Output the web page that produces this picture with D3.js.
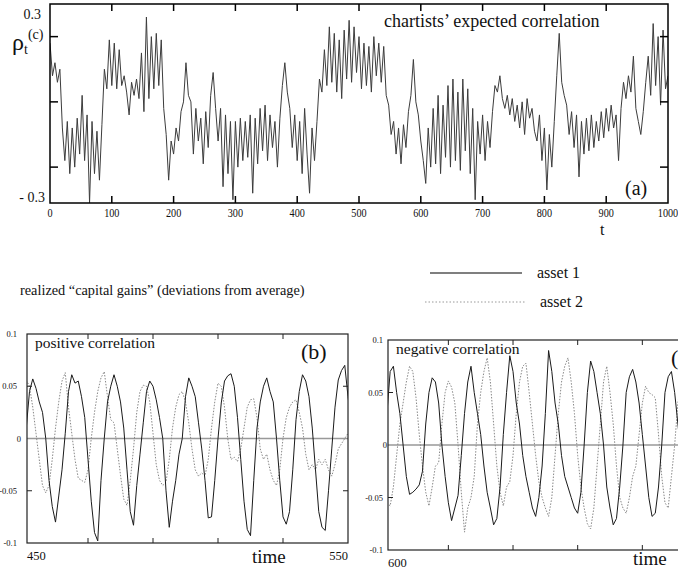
<!DOCTYPE html>
<html><head><meta charset="utf-8">
<script src="https://cdn.jsdelivr.net/npm/d3@7"></script>
<style>
body{margin:0;background:#fff}
svg{display:block}
text{font-family:"Liberation Serif","Times New Roman",serif;fill:#111}
</style>
</head><body>
<svg id="chart" width="678" height="573"></svg>
<script>
// ---------- DATA ----------
// panel (a): chartists' expected correlation, sampled every 4 steps from t=0 to t=1000
const rhoStep = 4;
const rhoValues = [
 0.18,0.08,0.12,0.06,0.10,-0.08,-0.18,-0.06,-0.22,-0.08,
 -0.20,-0.05,-0.16,0.02,-0.18,-0.04,-0.31,-0.06,-0.22,-0.09,
 -0.24,-0.07,0.10,0.04,0.19,0.05,0.18,0.04,0.16,0.05,
 0.08,0.03,-0.04,0.06,0.02,0.07,0.01,0.15,-0.03,0.26,
 0.01,0.20,0.04,0.21,0.05,0.19,-0.02,-0.10,-0.24,-0.12,
 -0.16,-0.08,-0.12,-0.03,0.00,0.12,0.02,0.00,-0.16,-0.02,
 -0.12,-0.05,-0.19,-0.03,-0.14,0.02,0.09,-0.02,-0.12,-0.02,
 -0.26,-0.04,-0.22,-0.06,-0.30,-0.06,-0.20,-0.05,-0.18,-0.06,
 -0.17,-0.04,-0.28,-0.05,-0.19,-0.02,-0.15,-0.01,-0.18,-0.04,
 -0.14,-0.06,-0.20,-0.05,0.05,0.12,0.03,-0.02,-0.14,-0.04,
 -0.18,-0.06,-0.22,-0.02,-0.16,-0.28,-0.08,-0.18,-0.06,0.07,
 0.03,0.16,0.05,0.23,0.06,0.21,0.03,0.19,0.01,0.22,
 0.07,0.25,0.06,0.23,0.09,0.20,0.04,0.18,0.05,0.17,
 0.03,0.20,0.08,0.18,0.06,0.17,0.02,-0.01,-0.10,-0.06,
 -0.16,-0.08,-0.19,-0.07,-0.14,-0.03,0.02,0.13,0.00,-0.04,
 -0.12,-0.18,-0.25,-0.08,-0.20,-0.02,-0.19,0.02,-0.22,-0.01,
 -0.17,0.05,-0.20,0.07,-0.18,0.03,-0.21,0.07,-0.15,0.04,
 -0.22,-0.02,-0.30,-0.06,-0.16,-0.04,-0.18,-0.06,-0.14,-0.03,
 0.05,0.03,0.08,0.01,-0.02,0.02,-0.04,0.01,-0.06,-0.01,
 -0.08,0.00,-0.10,0.01,-0.05,-0.02,-0.09,-0.12,-0.04,-0.18,
 -0.08,-0.27,-0.10,-0.20,-0.06,0.08,0.21,0.06,0.02,-0.01,
 -0.10,-0.03,-0.14,-0.04,-0.23,-0.06,-0.16,-0.05,-0.15,-0.04,
 -0.14,-0.06,-0.12,-0.03,-0.11,-0.02,-0.09,-0.01,-0.08,-0.04,
 -0.18,-0.02,0.06,0.01,0.08,0.03,0.14,-0.02,-0.06,-0.10,
 -0.03,0.06,0.14,0.02,0.24,0.05,0.20,-0.01,0.22,0.04,
 0.08
];
const aTicksX = [0,100,200,300,400,500,600,700,800,900,1000];
const aTicksY = [0.2,0,-0.2];

// panel (b): positive correlation, one value per period
const bTimeStart = 451;
const bAsset1 = [
 0.01,0.045,0.057,0.048,0.035,0.025,0.0,-0.04,-0.065,-0.08,
 -0.055,-0.03,0.005,0.045,0.061,0.053,0.055,0.04,0.02,-0.02,
 -0.06,-0.09,-0.098,-0.04,0.0,0.035,0.05,0.061,0.05,0.035,
 0.01,-0.03,-0.07,-0.083,-0.045,-0.015,0.015,0.045,0.055,0.05,
 0.037,0.02,0.0,-0.05,-0.085,-0.06,-0.04,-0.015,0.0,0.04,
 0.058,0.05,0.04,0.015,-0.01,-0.04,-0.076,-0.075,-0.04,0.0,
 0.034,0.055,0.06,0.062,0.05,0.02,-0.02,-0.06,-0.087,-0.093,
 -0.04,0.01,0.035,0.05,0.058,0.045,0.035,0.0,-0.04,-0.075,
 -0.082,-0.07,-0.03,0.018,0.045,0.061,0.055,0.04,0.01,-0.03,
 -0.07,-0.085,-0.088,-0.05,-0.01,0.03,0.056,0.065,0.07,0.04,
 0.015
];
const bAsset2 = [
 0.056,0.05,0.03,0.005,-0.02,-0.045,-0.052,-0.045,-0.02,0.01,
 0.035,0.055,0.063,0.03,0.005,-0.02,-0.038,-0.04,-0.042,-0.03,
 0.0,0.025,0.045,0.058,0.064,0.04,0.018,0.015,-0.01,-0.035,
 -0.058,-0.064,-0.04,-0.01,0.025,0.045,0.051,0.05,0.035,0.005,
 -0.025,-0.04,-0.045,-0.042,-0.02,0.01,0.03,0.042,0.045,0.035,
 0.015,-0.01,-0.03,-0.036,-0.033,-0.036,-0.02,0.01,0.035,0.053,
 0.05,0.03,0.0,-0.02,-0.018,-0.022,-0.01,0.01,0.03,0.037,
 0.038,0.02,-0.01,-0.02,-0.015,-0.03,-0.04,-0.045,-0.03,0.0,
 0.02,0.03,0.035,0.037,0.025,0.01,-0.015,-0.03,-0.025,-0.03,
 -0.02,-0.025,-0.02,-0.03,-0.036,-0.025,-0.01,-0.005,0.0,0.005,
 0.01
];
const bTicksX = [470,490,510,530];

// panel (c): negative correlation
const cTimeStart = 601;
const cAsset1 = [
 0.03,0.07,0.075,0.05,0.03,0.0,-0.03,-0.047,-0.045,-0.042,
 -0.038,-0.025,0.02,0.05,0.064,0.06,0.04,0.0,-0.03,-0.055,
 -0.072,-0.06,-0.048,-0.01,0.03,0.06,0.075,0.05,0.03,0.01,
 -0.02,-0.045,-0.06,-0.076,-0.07,-0.04,0.01,0.05,0.085,0.07,
 0.04,0.02,-0.01,-0.03,-0.045,-0.06,-0.068,-0.05,-0.02,0.03,
 0.09,0.07,0.04,0.02,-0.01,-0.03,-0.04,-0.05,-0.06,-0.065,
 -0.045,0.0,0.05,0.08,0.07,0.05,0.03,0.0,-0.04,-0.06,
 -0.076,-0.07,-0.04,0.0,0.05,0.065,0.072,0.06,0.04,0.01,
 -0.02,-0.05,-0.068,-0.065,-0.04,0.0,0.05,0.065,0.07,0.05,
 0.02,-0.01,-0.04,-0.06,-0.07,-0.05,-0.01,0.03,0.06,0.07,
 0.05
];
const cAsset2 = [
 -0.055,-0.058,-0.04,-0.01,0.02,0.04,0.06,0.075,0.07,0.045,
 0.01,-0.02,-0.045,-0.058,-0.04,-0.02,-0.017,0.02,0.05,0.061,
 0.055,0.04,0.0,-0.045,-0.083,-0.06,-0.05,-0.03,0.02,0.05,
 0.07,0.083,0.06,0.02,-0.02,-0.045,-0.058,-0.04,-0.035,-0.01,
 0.03,0.06,0.075,0.078,0.05,0.02,-0.01,-0.035,-0.05,-0.06,
 -0.068,-0.05,-0.01,0.03,0.06,0.075,0.083,0.06,0.03,-0.01,
 -0.04,-0.06,-0.075,-0.08,-0.06,-0.02,0.02,0.06,0.075,0.05,
 0.02,-0.02,-0.05,-0.06,-0.065,-0.05,-0.03,-0.02,0.01,0.04,
 0.056,0.05,0.048,0.045,0.01,-0.03,-0.055,-0.06,-0.03,0.0,
 0.04,0.06,0.055,0.03,0.0,-0.03,-0.05,-0.06,-0.04,-0.01,
 0.02
];
const cTicksX = [620,640,660,680];
const bcTicksY = [0.1,0.05,0,-0.05,-0.1];
const legendLabels = ["asset 1","asset 2"];

// ---------- DRAW ----------
const svg = d3.select("#chart");
const defs = svg.append("defs");

// ===== Panel (a) =====
{
  const L=50,R=668,T=4,B=203;
  const x = d3.scaleLinear().domain([0,1000]).range([L,R]);
  const y = d3.scaleLinear().domain([-0.31,0.3]).range([B,T]);
  const g = svg.append("g");
  defs.append("clipPath").attr("id","clipA").append("rect").attr("x",L).attr("y",T).attr("width",R-L).attr("height",B-T);
  const line = d3.line().x((d,i)=>x(i*rhoStep)).y(d=>y(d));
  g.append("path").datum(rhoValues).attr("d",line).attr("clip-path","url(#clipA)")
    .attr("fill","none").attr("stroke","#3c3c3c").attr("stroke-width",1);
  g.append("rect").attr("x",L).attr("y",T).attr("width",R-L).attr("height",B-T)
    .attr("fill","none").attr("stroke","#000").attr("stroke-width",1.5);
  aTicksX.forEach(t=>{
    if(t>0 && t<1000){
      g.append("line").attr("x1",x(t)).attr("x2",x(t)).attr("y1",T).attr("y2",T+7).attr("stroke","#000").attr("stroke-width",1.5);
      g.append("line").attr("x1",x(t)).attr("x2",x(t)).attr("y1",B).attr("y2",B-7).attr("stroke","#000").attr("stroke-width",1.5);
    }
    g.append("text").attr("x",x(t)).attr("y",B+14).attr("text-anchor","middle")
      .attr("font-size",12).attr("transform",`translate(${x(t)},0) scale(0.85,1) translate(${-x(t)},0)`).text(t);
  });
  aTicksY.forEach(v=>{
    g.append("line").attr("x1",L).attr("x2",L+8).attr("y1",y(v)).attr("y2",y(v)).attr("stroke","#000").attr("stroke-width",1.5);
    g.append("line").attr("x1",R).attr("x2",R-8).attr("y1",y(v)).attr("y2",y(v)).attr("stroke","#000").attr("stroke-width",1.5);
  });
  g.append("text").attr("x",41).attr("y",y(0.3)+15).attr("text-anchor","end").attr("font-size",14).text("0.3");
  g.append("text").attr("x",45).attr("y",y(-0.3)+2).attr("text-anchor","end").attr("font-size",14).text("- 0.3");
  const rho = g.append("text").attr("x",12).attr("y",50).attr("font-size",24);
  rho.append("tspan").text("ρ");
  rho.append("tspan").attr("font-size",14).attr("dy",4).text("t");
  rho.append("tspan").attr("font-size",14).attr("dy",-15).text("(c)");
  g.append("text").attr("x",384).attr("y",27).attr("font-size",18).text("chartists’ expected correlation");
  g.append("text").attr("x",625).attr("y",195).attr("font-size",20).text("(a)");
  g.append("text").attr("x",600).attr("y",235).attr("font-size",16).text("t");
}

// ===== Legend / caption =====
{
  const g = svg.append("g");
  g.append("text").attr("x",20).attr("y",295).attr("font-size",14.3).text("realized “capital gains” (deviations from average)");
  g.append("line").attr("x1",430).attr("x2",522).attr("y1",273).attr("y2",273).attr("stroke","#000").attr("stroke-width",1.2);
  g.append("text").attr("x",537).attr("y",278).attr("font-size",16).text(legendLabels[0]);
  g.append("line").attr("x1",425).attr("x2",525).attr("y1",302).attr("y2",302).attr("stroke","#999").attr("stroke-width",1).attr("stroke-dasharray","1.5,2");
  g.append("text").attr("x",540).attr("y",307).attr("font-size",16).text(legendLabels[1]);
}

// ===== Panels (b) and (c) =====
function smallPanel(opt){
  const {id,boxL,boxR,x0,x1,domX,T,B,a1,a2,tStart,ticksX,labelRight,title,tag,tagX,startLabel,endLabel,timeX,timeY} = opt;
  const x = d3.scaleLinear().domain(domX).range([x0,x1]);
  const y = d3.scaleLinear().domain([-0.1,0.1]).range([B,T]);
  const g = svg.append("g");
  defs.append("clipPath").attr("id",id).append("rect").attr("x",boxL).attr("y",T).attr("width",boxR-boxL).attr("height",B-T);
  const gc = g.append("g").attr("clip-path",`url(#${id})`);
  gc.append("line").attr("x1",boxL).attr("x2",boxR).attr("y1",y(0)).attr("y2",y(0)).attr("stroke","#999").attr("stroke-width",1.3);
  const line = d3.line().x((d,i)=>x(tStart+i)).y(d=>y(d));
  gc.append("path").datum(a2).attr("d",line).attr("fill","none").attr("stroke","#888").attr("stroke-width",1).attr("stroke-dasharray","1.5,1.5");
  gc.append("path").datum(a1).attr("d",line).attr("fill","none").attr("stroke","#1a1a1a").attr("stroke-width",1);
  g.append("rect").attr("x",boxL).attr("y",T).attr("width",boxR-boxL).attr("height",B-T).attr("fill","none").attr("stroke","#222").attr("stroke-width",1.2);
  ticksX.forEach(t=>{
    g.append("line").attr("x1",x(t)).attr("x2",x(t)).attr("y1",T).attr("y2",T+5).attr("stroke","#222");
    g.append("line").attr("x1",x(t)).attr("x2",x(t)).attr("y1",B).attr("y2",B-5).attr("stroke","#222");
  });
  bcTicksY.forEach(v=>{
    if(Math.abs(v)===0.05){
      g.append("line").attr("x1",boxL).attr("x2",boxL+5).attr("y1",y(v)).attr("y2",y(v)).attr("stroke","#222");
      g.append("line").attr("x1",boxR).attr("x2",boxR-5).attr("y1",y(v)).attr("y2",y(v)).attr("stroke","#222");
    }
    g.append("text").attr("x",labelRight + (v===0?4:0)).attr("y",y(v)+3).attr("text-anchor","end").attr("font-size",8.5).text(v===0?"0":String(v));
  });
  g.append("text").attr("x",boxL+8).attr("y",T+14).attr("font-size",15.5).text(title);
  g.append("text").attr("x",tagX).attr("y",T+25).attr("font-size",22).text(tag);
  g.append("text").attr("x",boxL).attr("y",B+17).attr("font-size",12.5).text(startLabel);
  if(endLabel) g.append("text").attr("x",boxR).attr("y",B+17).attr("text-anchor","end").attr("font-size",12.5).text(endLabel);
  g.append("text").attr("x",timeX).attr("y",timeY).attr("font-size",19).text("time");
}
smallPanel({id:"clipB",boxL:27,boxR:348,x0:23,x1:348,domX:[450,550],T:334,B:543,a1:bAsset1,a2:bAsset2,tStart:bTimeStart,
  ticksX:bTicksX,labelRight:17,title:"positive correlation",tag:"(b)",tagX:301,startLabel:"450",endLabel:"550",timeX:252,timeY:563});
smallPanel({id:"clipC",boxL:388,boxR:712,x0:383.7,x1:707,domX:[600,700],T:340,B:550,a1:cAsset1,a2:cAsset2,tStart:cTimeStart,
  ticksX:cTicksX,labelRight:383,title:"negative correlation",tag:"(c)",tagX:671,startLabel:"600",endLabel:null,timeX:633,timeY:565});
</script>
</body></html>
